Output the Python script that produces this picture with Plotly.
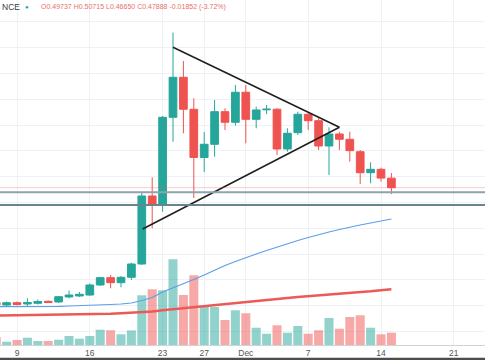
import plotly.graph_objects as go
import pandas as pd

# ---------------- data ----------------
dates = pd.date_range("2020-11-07", "2020-12-15", freq="D")

opens = [0.2564, 0.2515, 0.2560, 0.2535, 0.2548, 0.2587, 0.2574, 0.2671, 0.2690, 0.2709,
         0.2903, 0.3045, 0.2948, 0.3052, 0.3310, 0.4628, 0.4473, 0.6153, 0.6928, 0.6308,
         0.5374, 0.5630, 0.6262, 0.6056, 0.6638, 0.6114, 0.6298, 0.6310, 0.5539, 0.5855,
         0.6211, 0.6087, 0.5597, 0.5829, 0.5727, 0.5486, 0.5079, 0.5145, 0.49737]
highs = [0.2593, 0.2583, 0.2583, 0.2645, 0.2622, 0.2603, 0.2690, 0.2793, 0.2767, 0.2932,
         0.3058, 0.3097, 0.3078, 0.3335, 0.4692, 0.4990, 0.6178, 0.7793, 0.7244, 0.6521,
         0.5868, 0.6488, 0.6328, 0.6779, 0.6779, 0.6359, 0.6391, 0.6328, 0.5940, 0.6262,
         0.6231, 0.6134, 0.5959, 0.5874, 0.5874, 0.5519, 0.5281, 0.5176, 0.50715]
lows = [0.2487, 0.2496, 0.2506, 0.2483, 0.2525, 0.2554, 0.2554, 0.2645, 0.2671, 0.2690,
        0.2884, 0.2839, 0.2859, 0.3000, 0.3291, 0.4002, 0.4324, 0.5680, 0.5843, 0.4589,
        0.5093, 0.5390, 0.5907, 0.5990, 0.5649, 0.5940, 0.6217, 0.5422, 0.5486, 0.5810,
        0.5907, 0.5519, 0.5035, 0.5519, 0.5293, 0.4860, 0.4874, 0.4905, 0.46650]
closes = [0.2515, 0.2560, 0.2525, 0.2564, 0.2583, 0.2564, 0.2676, 0.2709, 0.2723, 0.2903,
          0.3045, 0.2948, 0.3052, 0.3310, 0.4628, 0.4473, 0.6153, 0.6928, 0.6308, 0.5374,
          0.5630, 0.6262, 0.6056, 0.6638, 0.6114, 0.6295, 0.6310, 0.5539, 0.5843, 0.6211,
          0.6087, 0.5597, 0.5829, 0.5727, 0.5506, 0.5079, 0.5145, 0.4974, 0.47888]
volumes = [280, 115, 175, 255, 140, 140, 185, 315, 220, 315,
           535, 515, 375, 510, 1740, 1950, 1915, 3000, 1750, 2440,
           1330, 1330, 875, 1215, 1110, 605, 395, 690, 430, 665,
           395, 515, 945, 570, 980, 1040, 605, 375, 430]
ma_fast = [0.2483, 0.2483, 0.2481, 0.2481, 0.2483, 0.2487, 0.2490, 0.2496, 0.2500, 0.2506,
           0.2515, 0.2525, 0.2535, 0.2554, 0.2603, 0.2661, 0.2767, 0.2845, 0.2922, 0.3010,
           0.3097, 0.3194, 0.3281, 0.3359, 0.3436, 0.3504, 0.3572, 0.3640, 0.3707, 0.3766,
           0.3824, 0.3882, 0.3930, 0.3979, 0.4027, 0.4066, 0.4105, 0.4143, 0.4182]
ma_slow = [0.2312, 0.2314, 0.2316, 0.2318, 0.2320, 0.2322, 0.2324, 0.2328, 0.2331, 0.2335,
           0.2341, 0.2347, 0.2355, 0.2362, 0.2374, 0.2390, 0.2413, 0.2434, 0.2455, 0.2477,
           0.2496, 0.2515, 0.2537, 0.2558, 0.2578, 0.2597, 0.2616, 0.2634, 0.2651, 0.2669,
           0.2684, 0.2700, 0.2715, 0.2729, 0.2742, 0.2756, 0.2781, 0.2802, 0.2822]

# drawn trend lines (triangle) and horizontal levels
tri_upper_x = ["2020-11-24 00:00", "2020-12-10 00:00"]
tri_upper_y = [0.751, 0.596]
tri_lower_x = ["2020-11-21 02:00", "2020-12-10 00:00"]
tri_lower_y = [0.3988, 0.596]
levels = [0.4700, 0.4453]
level_colors = ["#8ea3ab", "#6b838c"]

tick_vals = ["2020-11-09", "2020-11-16", "2020-11-23", "2020-11-27", "2020-12-01",
             "2020-12-07", "2020-12-14", "2020-12-21"]
tick_text = ["9", "16", "23", "27", "Dec", "7", "14", "21"]

UP = "#26a69a"
DN = "#ef5350"
UP_V = "rgba(38,166,154,0.5)"
DN_V = "rgba(239,83,80,0.5)"

vol_colors = [UP_V if c >= o else DN_V for o, c in zip(opens, closes)]

fig = go.Figure()

# volume (base axis, drawn beneath)
fig.add_trace(go.Bar(x=dates, y=volumes, marker=dict(color=vol_colors, line=dict(width=0)),
                     width=0.87 * 86400000, yaxis="y", hoverinfo="skip"))

# moving averages
fig.add_trace(go.Scatter(x=dates, y=ma_slow, mode="lines", line=dict(color="#ec5a55", width=2.5),
                         yaxis="y2"))
fig.add_trace(go.Scatter(x=dates, y=ma_fast, mode="lines", line=dict(color="#5d9ee8", width=1.2),
                         yaxis="y2"))

# candles
fig.add_trace(go.Candlestick(x=dates, open=opens, high=highs, low=lows, close=closes,
                             increasing=dict(line=dict(color=UP, width=1), fillcolor=UP),
                             decreasing=dict(line=dict(color=DN, width=1), fillcolor=DN),
                             whiskerwidth=0, yaxis="y2"))

# triangle lines
for xs, ys in [(tri_upper_x, tri_upper_y), (tri_lower_x, tri_lower_y)]:
    fig.add_trace(go.Scatter(x=xs, y=ys, mode="lines", line=dict(color="#1e1e1e", width=1.5),
                             yaxis="y2"))

shapes = []
# current price line
shapes.append(dict(type="line", xref="paper", x0=0, x1=1, yref="y2", y0=closes[-1], y1=closes[-1],
                   line=dict(color="rgba(239,83,80,0.3)", width=1)))
for lv, col in zip(levels, level_colors):
    shapes.append(dict(type="line", xref="paper", x0=0, x1=1, yref="y2", y0=lv, y1=lv,
                       line=dict(color=col, width=1.8)))
# dark strip at the very bottom of the screenshot
shapes.append(dict(type="rect", xref="paper", yref="paper", x0=0, x1=1, y0=-0.0436, y1=-0.037,
                   fillcolor="#4d4d4d", line=dict(width=0)))

chg = closes[-1] - closes[-2]
pct = chg / closes[-2] * 100
header = (f"O{opens[-1]:.5f} H{highs[-1]:.5f} L{lows[-1]:.5f} C{closes[-1]:.5f} "
          f"{chg:+.5f} ({pct:+.2f}%)")

ann_y = 1 - 7 / 345
annotations = [
    dict(text="NCE", xref="paper", yref="paper", x=0, y=ann_y, xanchor="left", yanchor="middle",
         showarrow=False, font=dict(family="Liberation Sans", size=8.5, color="#3a3a3a")),
    dict(text="●", xref="paper", yref="paper", x=26.7 / 485, y=ann_y, xanchor="center",
         yanchor="middle", showarrow=False, font=dict(size=6, color=UP)),
    dict(text=header, xref="paper", yref="paper", x=39 / 485, y=ann_y, xanchor="left",
         yanchor="middle", showarrow=False,
         font=dict(family="Liberation Sans", size=7, color="#e8706b")),
]

fig.update_layout(
    width=485, height=360,
    margin=dict(l=0, r=0, t=0, b=15),
    paper_bgcolor="white", plot_bgcolor="white",
    showlegend=False,
    boxgap=0.26, boxgroupgap=0,
    shapes=shapes, annotations=annotations,
    xaxis=dict(type="date", range=["2020-11-07 08:46", "2020-12-24 00:00"],
               tickvals=tick_vals, ticktext=tick_text, ticks="",
               tickfont=dict(family="Liberation Sans", size=8.5, color="#555"),
               showgrid=True, gridcolor="#eef1f6", gridwidth=1,
               showline=True, linecolor="#cfd3da", linewidth=1,
               rangeslider=dict(visible=False), fixedrange=True),
    yaxis=dict(range=[0, 345 * 35], visible=False, showgrid=False, fixedrange=True),
    yaxis2=dict(range=[0.174, 0.8426], overlaying="y", side="right", dtick=0.05,
                showticklabels=False, showgrid=True, gridcolor="#eef1f6", zeroline=False,
                fixedrange=True),
)

fig.write_html("out.html", config={"displayModeBar": False},
               post_script="document.body.style.margin='0';document.body.style.overflow='hidden';")
